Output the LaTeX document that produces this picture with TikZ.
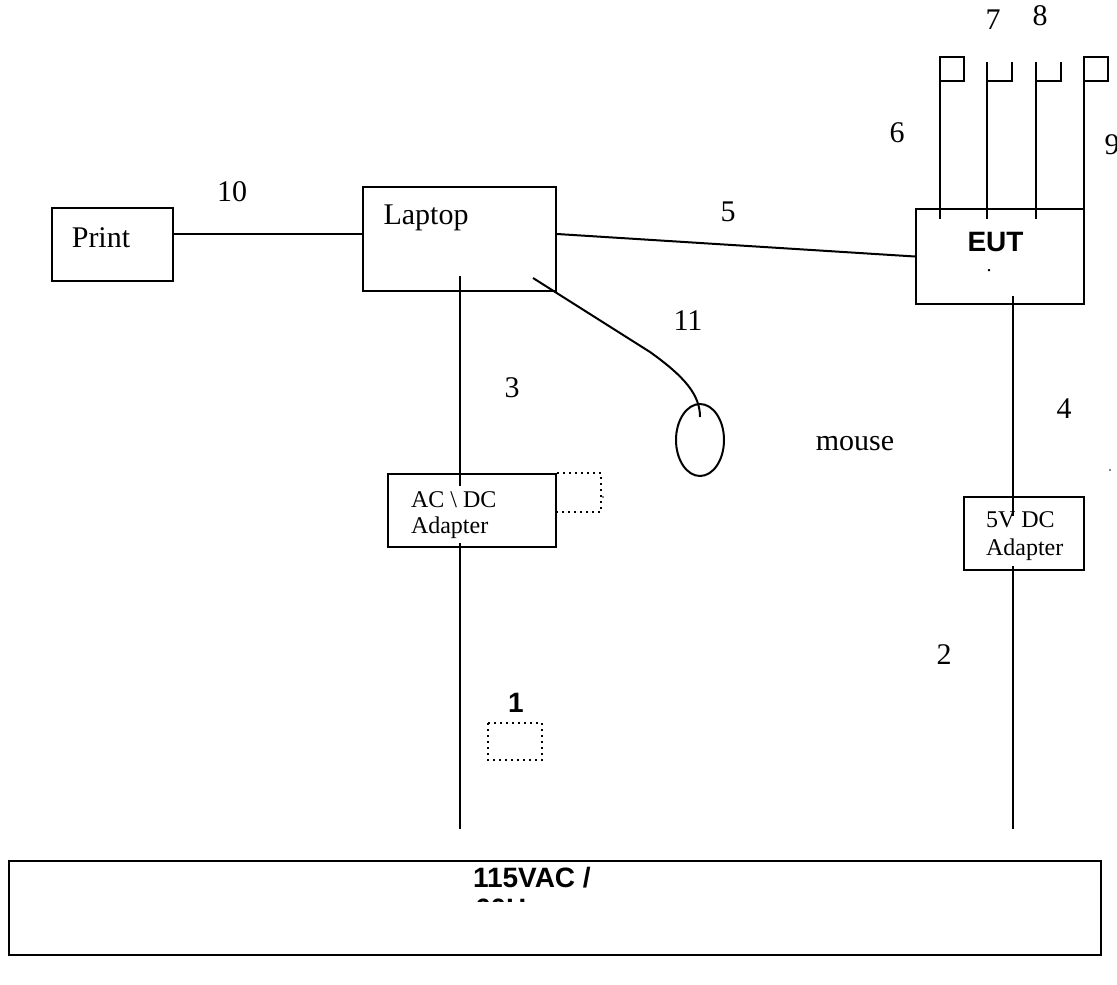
\documentclass[tikz,border=0pt]{standalone}
\usepackage{fontspec}
\setmainfont{Liberation Serif}
\setsansfont{Liberation Sans}
\usetikzlibrary{shapes.geometric}
\tikzset{
  box/.style={draw,line width=1pt,inner sep=0pt},
  lbl/.style={font=\fontsize{15}{15}\selectfont,anchor=base,inner sep=0pt},
  adlbl/.style={font=\fontsize{12}{12}\selectfont,anchor=base west,inner sep=0pt},
  bold/.style={font=\fontsize{14}{15.5}\selectfont\sffamily\bfseries,inner sep=0pt}
}
\begin{document}
\begin{tikzpicture}[x=0.5pt,y=-0.5pt,line width=1pt]
		\useasboundingbox (0,0) rectangle (1117,984);
		% units and boxes
		\node[box,minimum width=60.5pt,minimum height=36.5pt] (print) at (112.5,244.5) {};
		\node[box,minimum width=96.5pt,minimum height=52pt] (laptop) at (459.5,239) {};
		\node[box,minimum width=84pt,minimum height=47.5pt] (eut) at (1000,256.5) {};
		\node[box,minimum width=84pt,minimum height=36.5pt] (acdc) at (472,510.5) {};
		\node[box,minimum width=60pt,minimum height=36.5pt] (dcad) at (1024,533.5) {};
		\node[box,minimum width=546pt,minimum height=47pt] (mains) at (555,908) {};
		\node[draw,ellipse,minimum width=24pt,minimum height=36pt,inner sep=0pt] (mouse) at (700,440) {};
		\coordinate (acend) at (460,829);
		\coordinate (dcend) at (1013,829);
		% cables
		\draw ([yshift=5.5pt]print.east) -- ([yshift=5.5pt]print.east -| laptop.west);
		\draw ([yshift=2.5pt]laptop.east) -- (eut.west);
		\draw ([yshift=8pt]laptop.south) -- ([yshift=-6.5pt]laptop.south |- acdc.north);
		\draw ([yshift=2.5pt]acdc.south -| acend) -- (acend);
		\draw ([yshift=4.5pt]eut.south -| dcend) -- ([yshift=-10pt]dcad.north -| dcend);
		\draw ([yshift=2.5pt]dcad.south -| dcend) -- (dcend);
		\draw ([xshift=-12pt,yshift=7pt]laptop.south east) -- (650,352)
		      .. controls (685,377) and (700,395) .. ([yshift=-7pt]mouse.north);
		% ports on the EUT
		\foreach \px in {940,987,1036}
		  \draw (\px,80.7) -- ({\px},0 |- eut.north) -- ++(0,11);
		\draw (1084,0 |- eut.north) -- (1084,80.7);
		\foreach \px in {940,1084}
		  \draw (\px,80.7) rectangle ++(24,-24);
		\foreach \px in {987,1036}
		  \draw (\px,62) -- (\px,80.7) -- ++(25,0) -- ++(0,-18.7);
		% dotted marks
		\draw[dotted] (acdc.north east) -- ++(44,0) -- ++(0,39) -- ++(-44,0);
		\draw[dotted] (488,723) rectangle (542,760);
		\fill (603,497) circle (0.4pt) (1110,470) circle (0.4pt);
		% labels
		\node[lbl] (tprint) at (101,247) {Print};
		\node[lbl] (tlaptop) at (426,225) {Laptop};
		\node[lbl] (tmouse) at (855,450) {mouse};
		\node[lbl] (c10) at (232,201) {10};
		\node[lbl] (c5) at (728,221) {5};
		\node[lbl] (c6) at (897,143) {6};
		\node[lbl] (c7) at (993,30) {7};
		\node[lbl] (c8) at (1040,26) {8};
		\node[lbl] (c9) at (1112,155) {9};
		\node[lbl] (c11) at (688,330) {11};
		\node[lbl] (c3) at (512,397) {3};
		\node[lbl] (c4) at (1064,418) {4};
		\node[lbl] (c2) at (944,664) {2};
		\node[adlbl] (tac1) at (410,507) {AC \textbackslash{} DC};
		\node[adlbl] (tac2) at (410,533) {Adapter};
		\node[adlbl] (tdc1) at (985,527) {5V DC};
		\node[adlbl] (tdc2) at (985,555) {Adapter};
		\node[bold,anchor=base] (teut) at (995.5,251.5) {EUT};
		\node[lbl,font=\fontsize{10}{10}\selectfont] (tdot) at (989,271) {.};
		\node[bold,anchor=base] (c1) at (516,712) {1};
		\begin{scope}
		  \clip (mains.north west) rectangle (1101,901);
		  \node[bold,anchor=base west] (tmains) at (472,887) {115VAC /};
		  \node[bold,anchor=base west] (tmains2) at (474,918) {60H};
		\end{scope}
\end{tikzpicture}
\end{document}
